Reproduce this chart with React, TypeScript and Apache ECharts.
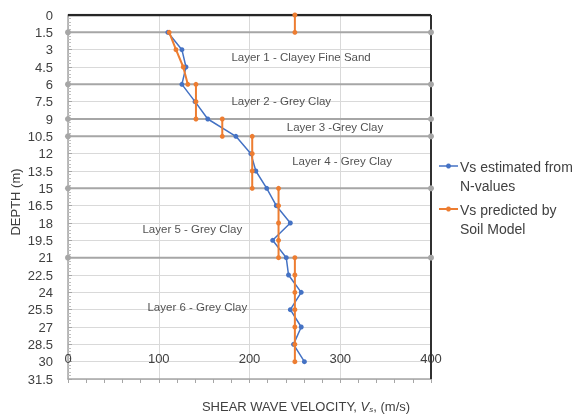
import React, { useEffect, useRef } from "react";
import * as echarts from "echarts";

// ---- data ----
const nDepths = [1.5, 3, 4.5, 6, 7.5, 9, 10.5, 12, 13.5, 15, 16.5, 18, 19.5, 21, 22.5, 24, 25.5, 27, 28.5, 30];
const vsFromN = [110, 125.5, 130, 125.5, 140, 154, 185, 201.5, 207, 219, 229.5, 245, 225.5, 240.5, 243, 257, 245, 257, 248.5, 260.5];

const modelDepths = [
  [0, 1.5],
  [1.5, 3, 4.5, 6],
  [6, 7.5, 9],
  [9, 10.5],
  [10.5, 12, 13.5, 15],
  [15, 16.5, 18, 19.5, 21],
  [21, 22.5, 24, 25.5, 27, 28.5, 30],
];
const modelVs = [
  [250, 250],
  [111.5, 119, 127, 132],
  [141, 141, 141],
  [170, 170],
  [203, 203, 203, 203],
  [232, 232, 232, 232, 232],
  [250, 250, 250, 250, 250, 250, 250],
];

const boundaryDepths = [1.5, 6, 9, 10.5, 15, 21];
const layerNames = [
  "Layer 1 - Clayey Fine Sand",
  "Layer 2 - Grey Clay",
  "Layer 3 -Grey Clay",
  "Layer 4 - Grey Clay",
  "Layer 5 - Grey Clay",
  "Layer 6 - Grey Clay",
];
const layerLabelVs = [179.5, 179.5, 240.5, 246.5, 81.5, 87];
const layerLabelDepth = [3.65, 7.45, 9.7, 12.6, 18.5, 25.25];

const xMin = 0, xMax = 400, xStep = 100;
const yMin = 0, yMax = 31.5, yStep = 1.5;

const seriesNames = ["Vs estimated from\nN-values", "Vs predicted by\nSoil Model"];

const BLUE = "#4472c4";
const ORANGE = "#ed7d31";
const FONT = "Liberation Sans, Arial, sans-serif";

export default function App() {
  const ref = useRef<HTMLDivElement>(null);
  useEffect(() => {
    if (!ref.current) return;
    const chart = echarts.init(ref.current, undefined, { renderer: "svg" });

    const series: any[] = [];
    // layer boundaries
    boundaryDepths.forEach((d) => {
      series.push({
        type: "line",
        data: [[xMin, d], [xMax, d]],
        symbol: "circle",
        symbolSize: 6,
        itemStyle: { color: "#a6a6a6" },
        lineStyle: { color: "#a6a6a6", width: 2 },
        silent: true,
        z: 2,
      });
    });
    // top frame line at depth 0
    series.push({
      type: "line",
      data: [[xMin, yMin], [xMax, yMin]],
      symbol: "none",
      lineStyle: { color: "#262626", width: 2.5 },
      z: 2,
    });
    // right frame line
    series.push({
      type: "line",
      data: [[xMax, yMin], [xMax, yMax]],
      symbol: "none",
      lineStyle: { color: "#303030", width: 2 },
      z: 2,
    });
    // blue
    series.push({
      type: "line",
      name: seriesNames[0],
      data: nDepths.map((d, i) => [vsFromN[i], d]),
      symbol: "circle",
      symbolSize: 5,
      itemStyle: { color: BLUE },
      lineStyle: { color: BLUE, width: 1.5 },
      z: 3,
    });
    // orange segments
    modelDepths.forEach((seg, si) => {
      series.push({
        type: "line",
        name: seriesNames[1],
        data: seg.map((d, i) => [modelVs[si][i], d]),
        symbol: "circle",
        symbolSize: 5,
        itemStyle: { color: ORANGE },
        lineStyle: { color: ORANGE, width: 2 },
        z: 4,
      });
    });
    // layer labels
    series.push({
      type: "scatter",
      data: layerNames.map((n, i) => ({ name: n, value: [layerLabelVs[i], layerLabelDepth[i]] })),
      symbolSize: 1,
      itemStyle: { color: "rgba(0,0,0,0)" },
      label: {
        show: true,
        position: "right",
        distance: 0,
        formatter: "{b}",
        color: "#262626",
        fontFamily: FONT,
        fontSize: 11.5,
      },
      z: 5,
    });

    chart.setOption({
      animation: false,
      grid: { left: 68, right: 145, top: 15, bottom: 35 },
      xAxis: {
        type: "value",
        min: xMin,
        max: xMax,
        interval: xStep,
        axisLine: { show: true, onZero: false, lineStyle: { color: "#a6a6a6", width: 1.5 } },
        axisTick: { show: true, length: 4, lineStyle: { color: "#a6a6a6" } },
        minorTick: { show: true, splitNumber: 5, length: 4, lineStyle: { color: "#a6a6a6" } },
        splitLine: { show: true, lineStyle: { color: "#d9d9d9", width: 1 } },
        axisLabel: {
          margin: -27,
          color: "#404040",
          fontFamily: FONT,
          fontSize: 13,
        },
      },
      yAxis: {
        type: "value",
        inverse: true,
        min: yMin,
        max: yMax,
        interval: yStep,
        axisLine: { show: true, onZero: false, lineStyle: { color: "#a6a6a6", width: 1.5 } },
        axisTick: { show: true, inside: true, length: 4, lineStyle: { color: "#a6a6a6" } },
        minorTick: { show: true, splitNumber: 5, length: 3, lineStyle: { color: "#bfbfbf" } },
        splitLine: { show: true, lineStyle: { color: "#d9d9d9", width: 1 } },
        axisLabel: {
          margin: 15,
          color: "#404040",
          fontFamily: FONT,
          fontSize: 13,
          formatter: (v: number) => String(+v.toFixed(1)),
        },
      },
      series,
      graphic: [
        {
          type: "text",
          x: 15,
          y: 202,
          rotation: Math.PI / 2,
          style: {
            text: "DEPTH (m)",
            fill: "#404040",
            font: `13px ${FONT}`,
            align: "center",
            verticalAlign: "middle",
          },
        },
        {
          type: "text",
          x: 306,
          y: 406,
          style: {
            text: "SHEAR WAVE VELOCITY, {i|V}{sub|s}, (m/s)",
            rich: {
              i: { fontStyle: "italic", fontSize: 13, fontFamily: FONT, fill: "#404040" },
              sub: { fontStyle: "italic", fontSize: 8, fontFamily: FONT, fill: "#404040", verticalAlign: "bottom", padding: [6, 0, 0, 0] },
            },
            fill: "#404040",
            font: `13px ${FONT}`,
            align: "center",
            verticalAlign: "middle",
          },
        },
        // legend
        { type: "line", shape: { x1: 439, y1: 166, x2: 458, y2: 166 }, style: { stroke: BLUE, lineWidth: 1.5 } },
        { type: "circle", shape: { cx: 448.5, cy: 166, r: 2.5 }, style: { fill: BLUE } },
        {
          type: "text",
          x: 460,
          y: 157,
          style: { text: seriesNames[0], fill: "#404040", font: `14px ${FONT}`, lineHeight: 19, verticalAlign: "top" },
        },
        { type: "line", shape: { x1: 439, y1: 209, x2: 458, y2: 209 }, style: { stroke: ORANGE, lineWidth: 2 } },
        { type: "circle", shape: { cx: 448.5, cy: 209, r: 2.5 }, style: { fill: ORANGE } },
        {
          type: "text",
          x: 460,
          y: 200,
          style: { text: seriesNames[1], fill: "#404040", font: `14px ${FONT}`, lineHeight: 19, verticalAlign: "top" },
        },
      ],
    });
    return () => chart.dispose();
  }, []);
  return <div ref={ref} style={{ position: "fixed", left: 0, top: 0, width: 576, height: 414 }} />;
}
